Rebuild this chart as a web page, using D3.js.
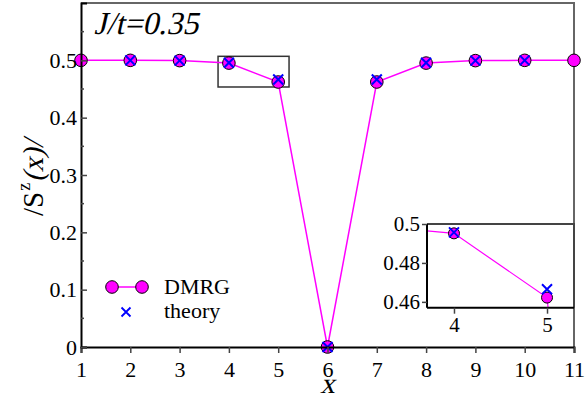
<!DOCTYPE html>
<html>
<head>
<meta charset="utf-8">
<script src="https://d3js.org/d3.v7.min.js"></script>
<style>
  body { margin: 0; background: white; }
  svg text { font-family: "Liberation Serif", "Times New Roman", serif; fill: #000; }
</style>
</head>
<body>
<script>
// site index and measured values
var sites = [1, 2, 3, 4, 5, 6, 7, 8, 9, 10, 11];
var dmrg = [0.5, 0.5, 0.4995, 0.4952, 0.4622, 0.0, 0.4622, 0.4952, 0.4995, 0.5, 0.5];
var theorySites = [2, 3, 4, 5, 6, 7, 8, 9, 10];
var theory = [0.5, 0.4995, 0.4957, 0.4665, 0.0, 0.4665, 0.4957, 0.4995, 0.5];
var xTicks = [1, 2, 3, 4, 5, 6, 7, 8, 9, 10, 11];
var yTicks = [0, 0.1, 0.2, 0.3, 0.4, 0.5];
var insetXTicks = [4, 5];
var insetYTicks = [0.46, 0.48, 0.5];

var width = 585, height = 403;
var magenta = "#ff00ff", blue = "#0000ff";

var svg = d3.select("body").append("svg")
  .attr("width", width).attr("height", height);

var x = d3.scaleLinear().domain([1, 11]).range([81, 574]);
var y = d3.scaleLinear().domain([0, 0.6]).range([347, 3]);

var dPts = sites.map(function(s, i) { return [s, dmrg[i]]; });
var tPts = theorySites.map(function(s, i) { return [s, theory[i]]; });

function cross(g, px, py, h, w, col) {
  g.append("path")
    .attr("d", "M" + (px - h) + "," + (py - h) + "L" + (px + h) + "," + (py + h) +
               "M" + (px - h) + "," + (py + h) + "L" + (px + h) + "," + (py - h))
    .attr("stroke", col).attr("stroke-width", w).attr("fill", "none");
}

// the serif italic face is not installed, so slant the regular one
function slanted(g, tx, ty, size, str, anchor) {
  return g.append("text")
    .attr("transform", "translate(" + tx + "," + ty + ") skewX(-13)")
    .attr("font-size", size).attr("text-anchor", anchor || "start").text(str);
}

// frame: top/right gray
svg.append("path")
  .attr("d", "M" + x(1) + "," + y(0.6) + "H" + x(11) + "V" + y(0))
  .attr("stroke", "#666").attr("stroke-width", 2).attr("fill", "none");

// zoom box
svg.append("rect")
  .attr("x", x(3.78)).attr("y", y(0.507))
  .attr("width", x(5.22) - x(3.78)).attr("height", y(0.4535) - y(0.507))
  .attr("fill", "none").attr("stroke", "#333").attr("stroke-width", 1.5);

var line = d3.line().x(function(d) { return x(d[0]); }).y(function(d) { return y(d[1]); });

svg.append("path").datum(dPts)
  .attr("d", line).attr("fill", "none").attr("stroke", magenta).attr("stroke-width", 1.5);

svg.selectAll("circle.main").data(dPts).enter().append("circle")
  .attr("class", "main")
  .attr("cx", function(d) { return x(d[0]); })
  .attr("cy", function(d) { return y(d[1]); })
  .attr("r", 6.3).attr("fill", magenta).attr("stroke", "#000").attr("stroke-width", 1);

tPts.forEach(function(d) { cross(svg, x(d[0]), y(d[1]), 5, 2, blue); });

// axes
var xAxis = svg.append("g").attr("transform", "translate(0," + y(0) + ")")
  .call(d3.axisBottom(x).tickValues(xTicks).tickSize(6).tickPadding(8).tickFormat(d3.format("d")));
xAxis.attr("font-family", null);
xAxis.select(".domain").attr("stroke", "#000").attr("stroke-width", 2);
xAxis.selectAll(".tick line").attr("stroke", "#444").attr("stroke-width", 1.5);
xAxis.selectAll("text").attr("font-size", 22);

var yAxis = svg.append("g").attr("transform", "translate(" + x(1) + ",0)")
  .call(d3.axisLeft(y).tickValues(yTicks).tickSize(-6).tickPadding(4)
    .tickFormat(function(d) { return d === 0 ? "0" : d3.format(".1f")(d); }));
yAxis.attr("font-family", null);
yAxis.select(".domain").attr("stroke", "#000").attr("stroke-width", 2);
yAxis.selectAll(".tick line").attr("stroke", "#444").attr("stroke-width", 1.5);
yAxis.selectAll("text").attr("font-size", 22);

yAxis.selectAll("line.minor").data([0.05, 0.15, 0.25, 0.35, 0.45, 0.55]).enter().append("line")
  .attr("class", "minor").attr("x1", 0).attr("x2", 3)
  .attr("y1", function(d) { return y(d); }).attr("y2", function(d) { return y(d); })
  .attr("stroke", "#444").attr("stroke-width", 1.5);

// labels
slanted(svg, 94, 34, 32, "J/t=0.35");
slanted(svg, x(6), 393, 29, "x", "middle");

// y label: /S^z(x)/ built piece by piece along the rotated baseline
var yl = svg.append("g").attr("transform", "translate(43,178) rotate(-90)");
var parts = [
  { s: "/S", size: 29, dy: 0, it: false },
  { s: "z", size: 18, dy: -13, it: false },
  { s: "(x)/", size: 29, dy: 0, it: true }
];
var made = [];
parts.forEach(function(p) {
  var t = yl.append("text").attr("font-size", p.size).text(p.s);
  made.push(t);
  p.w = t.node().getComputedTextLength();
});
var total = d3.sum(parts, function(p) { return p.w; }) + 2;
var pos = -total / 2;
parts.forEach(function(p, i) {
  var tr = "translate(" + pos + "," + p.dy + ")" + (p.it ? " skewX(-13)" : "");
  made[i].attr("transform", tr);
  pos += p.w + 1;
});

// legend
svg.append("line").attr("x1", 112).attr("x2", 142).attr("y1", 287).attr("y2", 287)
  .attr("stroke", magenta).attr("stroke-width", 1.5);
[112, 142].forEach(function(cx) {
  svg.append("circle").attr("cx", cx).attr("cy", 287).attr("r", 6.3)
    .attr("fill", magenta).attr("stroke", "#000").attr("stroke-width", 1);
});
cross(svg, 126, 312, 4.5, 1.8, blue);
svg.append("text").attr("x", 164).attr("y", 294).attr("font-size", 22).text("DMRG");
svg.append("text").attr("x", 164).attr("y", 318).attr("font-size", 22).text("theory");

// inset
var ix = d3.scaleLinear().domain([3.71, 5.29]).range([427, 574]);
var iy = d3.scaleLinear().domain([0.457, 0.5]).range([307.7, 224]);

var inset = svg.append("g");
inset.append("rect").attr("x", 427).attr("y", 224).attr("width", 147).attr("height", 83.7)
  .attr("fill", "white");
inset.append("clipPath").attr("id", "iclip").append("rect")
  .attr("x", 427).attr("y", 224).attr("width", 147).attr("height", 83.7);
inset.append("path")
  .attr("d", "M427,224H574V307.7")
  .attr("stroke", "#444").attr("stroke-width", 2).attr("fill", "none");

var iline = d3.line().x(function(d) { return ix(d[0]); }).y(function(d) { return iy(d[1]); });
var ic = inset.append("g").attr("clip-path", "url(#iclip)");
ic.append("path").datum(dPts).attr("d", iline)
  .attr("fill", "none").attr("stroke", magenta).attr("stroke-width", 1.2);
ic.selectAll("circle").data(dPts.filter(function(d) { return d[0] >= 4 && d[0] <= 5; }))
  .enter().append("circle")
  .attr("cx", function(d) { return ix(d[0]); })
  .attr("cy", function(d) { return iy(d[1]); })
  .attr("r", 5.5).attr("fill", magenta).attr("stroke", "#000").attr("stroke-width", 1);
tPts.filter(function(d) { return d[0] >= 4 && d[0] <= 5; })
  .forEach(function(d) { cross(ic, ix(d[0]), iy(d[1]), 5, 2, blue); });

var ixAxis = inset.append("g").attr("transform", "translate(0,307.7)")
  .call(d3.axisBottom(ix).tickValues(insetXTicks).tickSize(6).tickPadding(3).tickFormat(d3.format("d")));
ixAxis.attr("font-family", null);
ixAxis.select(".domain").attr("stroke", "#000").attr("stroke-width", 2).attr("d", "M427,0H574");
ixAxis.selectAll(".tick line").attr("stroke", "#444").attr("stroke-width", 1.5);
ixAxis.selectAll("text").attr("font-size", 21);

var iyAxis = inset.append("g").attr("transform", "translate(427,0)")
  .call(d3.axisLeft(iy).tickValues(insetYTicks).tickSize(5).tickPadding(2)
    .tickFormat(function(d) { return d === 0.5 ? "0.5" : d3.format(".2f")(d); }));
iyAxis.attr("font-family", null);
iyAxis.select(".domain").attr("stroke", "#000").attr("stroke-width", 2).attr("d", "M0,224V307.7");
iyAxis.selectAll(".tick line").attr("stroke", "#444").attr("stroke-width", 1.5);
iyAxis.selectAll("text").attr("font-size", 21);
</script>
</body>
</html>
